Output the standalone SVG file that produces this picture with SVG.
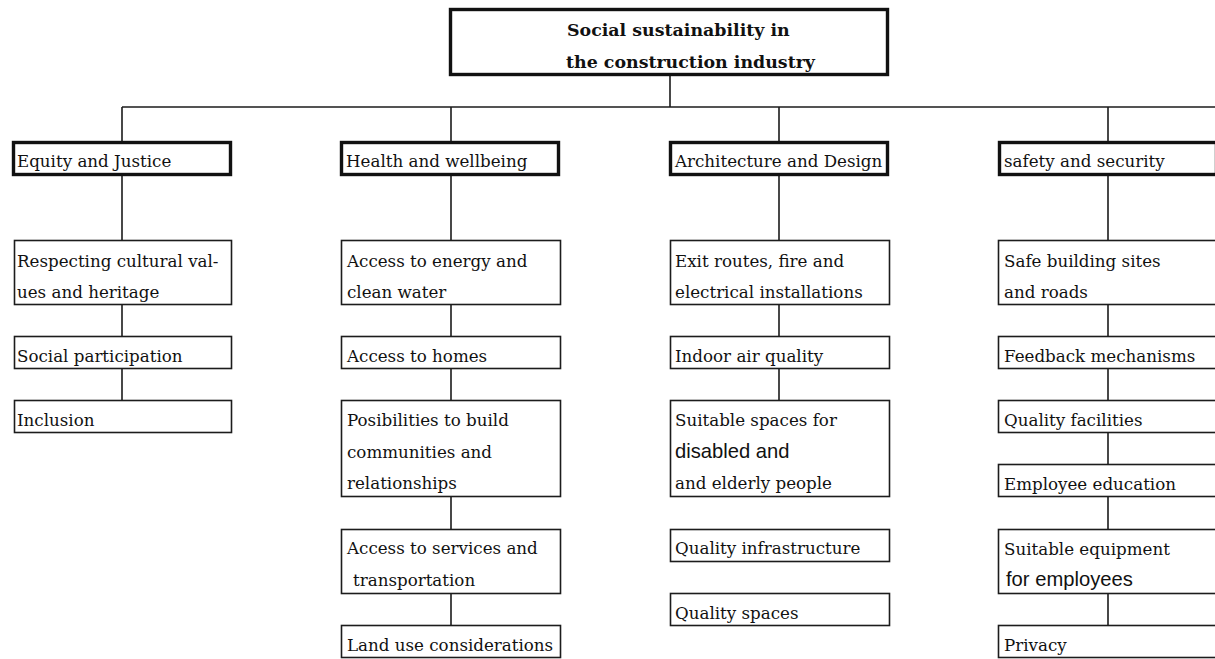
<svg xmlns="http://www.w3.org/2000/svg" width="1215" height="659" viewBox="0 0 1215 659">
  <style>
    .bg { fill: #ffffff; }
    .root { fill: #ffffff; stroke: #111111; stroke-width: 3.4; }
    .cat { fill: #ffffff; stroke: #111111; stroke-width: 3.4; }
    .item { fill: #ffffff; stroke: #1c1c1c; stroke-width: 1.6; }
    .link { fill: none; stroke: #1c1c1c; stroke-width: 1.6; }
    text { font-family: "DejaVu Serif", "Liberation Serif", serif; font-size: 16.7px; fill: #111111; }
    .title { font-weight: bold; font-size: 17.4px; }
    .sans { font-family: "Liberation Sans", Arial, sans-serif; font-size: 20.2px; }
  </style>

  <rect class="bg" x="0" y="0" width="1215" height="659"/>

  <!-- connectors -->
  <g id="connectors">
    <path class="link" d="M670 75 V107 M122 107 H1215 M122 107 V141 M451 107 V141 M779 107 V141 M1108 107 V141"/>
    <path class="link" d="M122 176 V240 M122 305 V337 M122 369 V401"/>
    <path class="link" d="M451 176 V240 M451 305 V336 M451 369 V401 M451 497 V529 M451 594 V625"/>
    <path class="link" d="M779 176 V240 M779 305 V336 M779 369 V401"/>
    <path class="link" d="M1108 176 V240 M1108 305 V336 M1108 369 V401 M1108 433 V465 M1108 497 V529 M1108 594 V625"/>
  </g>

  <!-- root -->
  <g id="root">
    <rect class="root" x="450.5" y="9.5" width="437" height="65"/>
    <text class="title" x="567" y="36">Social sustainability in</text>
    <text class="title" x="566" y="68">the construction industry</text>
  </g>

  <!-- categories -->
  <g id="cat-equity">
    <rect class="cat" x="13.5" y="142.5" width="217" height="32"/>
    <text x="17" y="166.5">Equity and Justice</text>
  </g>
  <g id="cat-health">
    <rect class="cat" x="341.5" y="142.5" width="217" height="32"/>
    <text x="346" y="166.5">Health and wellbeing</text>
  </g>
  <g id="cat-architecture">
    <rect class="cat" x="670.5" y="142.5" width="217" height="32"/>
    <text x="675" y="166.5">Architecture and Design</text>
  </g>
  <g id="cat-safety">
    <rect class="cat" x="999.5" y="142.5" width="217" height="32"/>
    <text x="1004" y="166.5">safety and security</text>
  </g>

  <!-- Equity and Justice items -->
  <g id="eq-cultural">
    <rect class="item" x="14.5" y="240.5" width="217" height="64"/>
    <text x="17" y="266.5">Respecting cultural val-</text>
    <text x="17" y="298">ues and heritage</text>
  </g>
  <g id="eq-participation">
    <rect class="item" x="14.5" y="336.5" width="217" height="32"/>
    <text x="17" y="362">Social participation</text>
  </g>
  <g id="eq-inclusion">
    <rect class="item" x="14.5" y="400.5" width="217" height="32"/>
    <text x="17" y="426">Inclusion</text>
  </g>

  <!-- Health and wellbeing items -->
  <g id="hw-energy">
    <rect class="item" x="341.5" y="240.5" width="219" height="64"/>
    <text x="347" y="266.5">Access to energy and</text>
    <text x="347" y="298">clean water</text>
  </g>
  <g id="hw-homes">
    <rect class="item" x="341.5" y="336.5" width="219" height="32"/>
    <text x="347" y="362">Access to homes</text>
  </g>
  <g id="hw-communities">
    <rect class="item" x="341.5" y="400.5" width="219" height="96"/>
    <text x="347" y="426">Posibilities to build</text>
    <text x="347" y="457.5">communities and</text>
    <text x="347" y="489">relationships</text>
  </g>
  <g id="hw-services">
    <rect class="item" x="341.5" y="529.5" width="219" height="64"/>
    <text x="347" y="554">Access to services and</text>
    <text x="353" y="585.5">transportation</text>
  </g>
  <g id="hw-land">
    <rect class="item" x="341.5" y="625.5" width="219" height="32"/>
    <text x="347" y="650.5">Land use considerations</text>
  </g>

  <!-- Architecture and Design items -->
  <g id="ad-exit">
    <rect class="item" x="670.5" y="240.5" width="219" height="64"/>
    <text x="675" y="266.5">Exit routes, fire and</text>
    <text x="675" y="298">electrical installations</text>
  </g>
  <g id="ad-air">
    <rect class="item" x="670.5" y="336.5" width="219" height="32"/>
    <text x="675" y="362">Indoor air quality</text>
  </g>
  <g id="ad-spaces-disabled">
    <rect class="item" x="670.5" y="400.5" width="219" height="96"/>
    <text x="675" y="426">Suitable spaces for</text>
    <text class="sans" x="675" y="458">disabled and</text>
    <text x="675" y="489">and elderly people</text>
  </g>
  <g id="ad-infrastructure">
    <rect class="item" x="670.5" y="529.5" width="219" height="32"/>
    <text x="675" y="554">Quality infrastructure</text>
  </g>
  <g id="ad-quality-spaces">
    <rect class="item" x="670.5" y="593.5" width="219" height="32"/>
    <text x="675" y="618.5">Quality spaces</text>
  </g>

  <!-- safety and security items -->
  <g id="ss-sites">
    <rect class="item" x="998.5" y="240.5" width="219" height="64"/>
    <text x="1004" y="266.5">Safe building sites</text>
    <text x="1004" y="298">and roads</text>
  </g>
  <g id="ss-feedback">
    <rect class="item" x="998.5" y="336.5" width="219" height="32"/>
    <text x="1004" y="362">Feedback mechanisms</text>
  </g>
  <g id="ss-facilities">
    <rect class="item" x="998.5" y="400.5" width="219" height="32"/>
    <text x="1004" y="426">Quality facilities</text>
  </g>
  <g id="ss-education">
    <rect class="item" x="998.5" y="464.5" width="219" height="32"/>
    <text x="1004" y="490">Employee education</text>
  </g>
  <g id="ss-equipment">
    <rect class="item" x="998.5" y="529.5" width="219" height="64"/>
    <text x="1004" y="555">Suitable equipment</text>
    <text class="sans" x="1006" y="586">for employees</text>
  </g>
  <g id="ss-privacy">
    <rect class="item" x="998.5" y="625.5" width="219" height="32"/>
    <text x="1004" y="650.5">Privacy</text>
  </g>
</svg>
